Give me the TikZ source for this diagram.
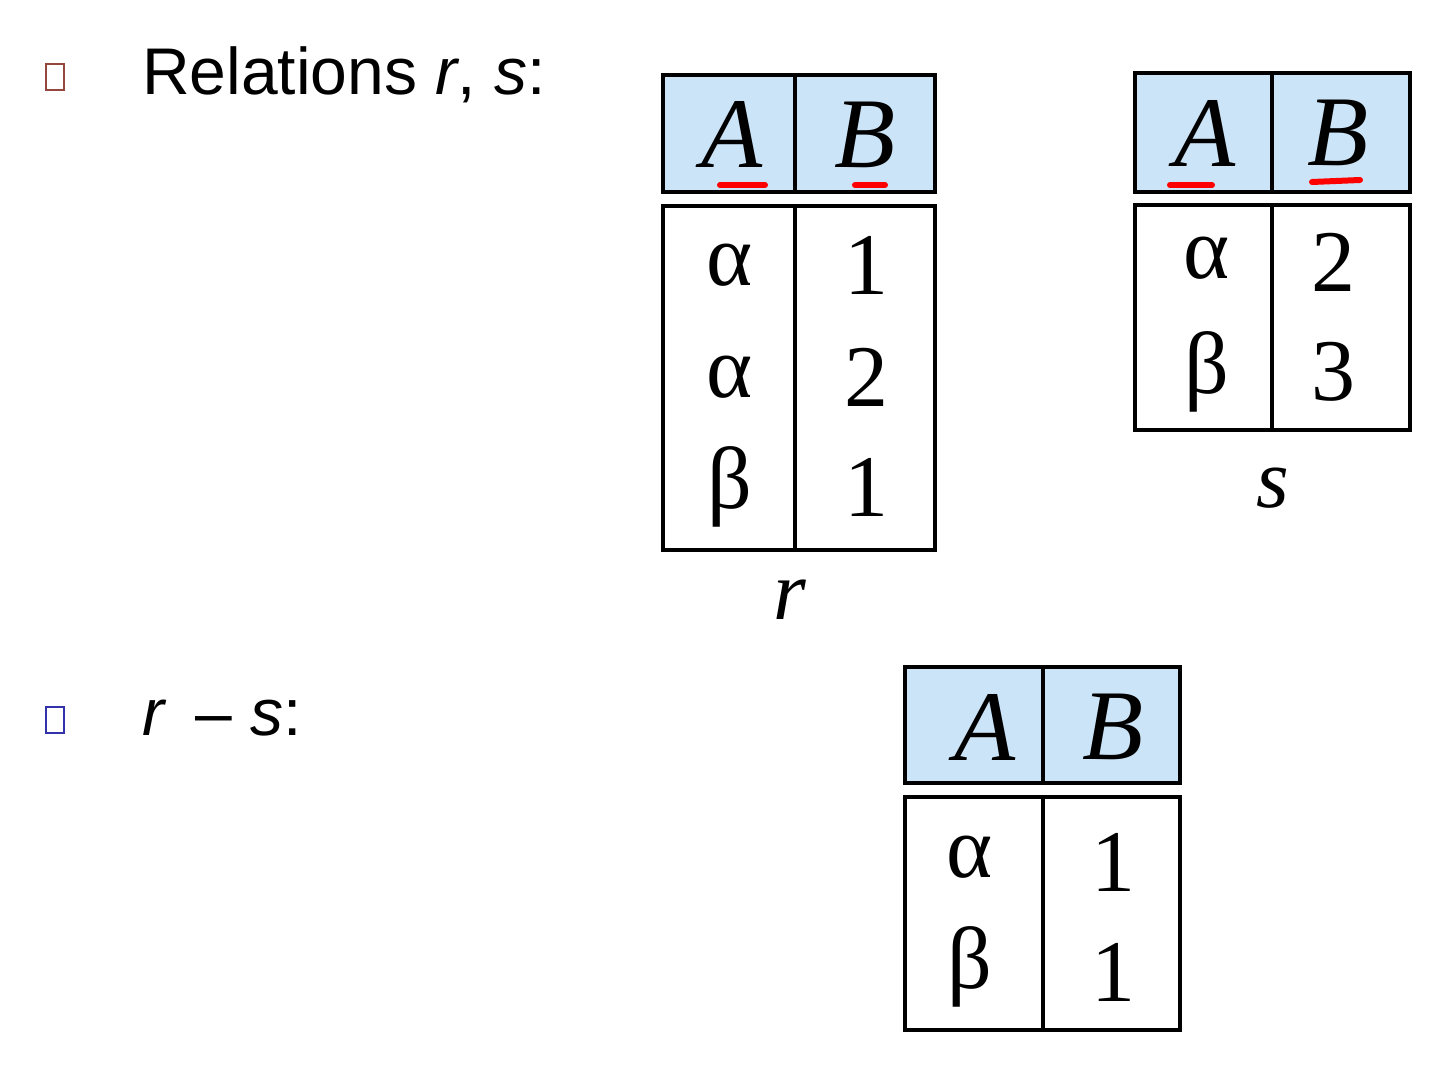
\documentclass[tikz,border=0pt]{standalone}
\usepackage{fontspec}
\setmainfont{Liberation Serif}
\newfontfamily\lsans{Liberation Sans}
\begin{document}
\begin{tikzpicture}[x=0.5pt,y=-0.5pt,
  hdr/.style={draw=black,line width=2pt,fill={rgb,255:red,204;green,228;blue,247}},
  bdy/.style={draw=black,line width=2pt},
  cell/.style={font=\itshape\fontsize{50}{50}\selectfont},
  rel/.style={font=\itshape\fontsize{42}{42}\selectfont},
  val/.style={font=\fontsize{44}{44}\selectfont},
  lbl/.style={font=\lsans\fontsize{33}{38}\selectfont,anchor=west},
  ul/.style={red,line width=3pt,line cap=round}]
\useasboundingbox (0,0) rectangle (1440,1068);
% bullets
\node[draw={rgb,255:red,150;green,70;blue,60},line width=1.2pt,minimum width=9pt,minimum height=13pt,inner sep=0] (b1) at (55,77) {};
\node[draw={rgb,255:red,50;green,50;blue,170},line width=1.2pt,minimum width=9pt,minimum height=13pt,inner sep=0] (b2) at (55,720) {};
\node[lbl] (t1) at (135,75) {Relations \textit{r}, \textit{s}:};
\node[lbl] (t2) at (135,718) {\textit{r} \,– \textit{s}:};
% table r
\draw[hdr] (663,75) rectangle (935,192); \draw[bdy] (795,75) -- (795,192);
\draw[bdy] (663,206) rectangle (935,550); \draw[bdy] (795,206) -- (795,550);
\node[cell] (ra) at (732,135) {A}; \node[cell] (rb) at (865,135) {B};
\draw[ul] (720,185) -- (765,185); \draw[ul] (855,185) -- (885,185);
\node[val] at (730,265) {α}; \node[val] at (866,265) {1};
\node[val] at (730,377) {α}; \node[val] at (866,377) {2};
\node[val] at (730,487) {β}; \node[val] at (866,487) {1};
\node[rel] (rl) at (790,600) {r};
% table s
\draw[hdr] (1135,73) rectangle (1410,192); \draw[bdy] (1272,73) -- (1272,192);
\draw[bdy] (1135,205) rectangle (1410,430); \draw[bdy] (1272,205) -- (1272,430);
\node[cell] (sa) at (1205,133) {A}; \node[cell] (sb) at (1338,133) {B};
\draw[ul] (1170,185) -- (1212,185); \draw[ul] (1312,182) -- (1360,180);
\node[val] at (1207,258) {α}; \node[val] at (1333,262) {2};
\node[val] at (1207,372) {β}; \node[val] at (1333,372) {3};
\node[rel] (sl) at (1273,488) {s};
% table r-s
\draw[hdr] (905,667) rectangle (1180,783); \draw[bdy] (1043,667) -- (1043,783);
\draw[bdy] (905,797) rectangle (1180,1030); \draw[bdy] (1043,797) -- (1043,1030);
\node[cell] (qa) at (985,727) {A}; \node[cell] (qb) at (1113,727) {B};
\node[val] at (970,857) {α}; \node[val] at (1113,862) {1};
\node[val] at (970,967) {β}; \node[val] at (1113,972) {1};
\end{tikzpicture}
\end{document}
